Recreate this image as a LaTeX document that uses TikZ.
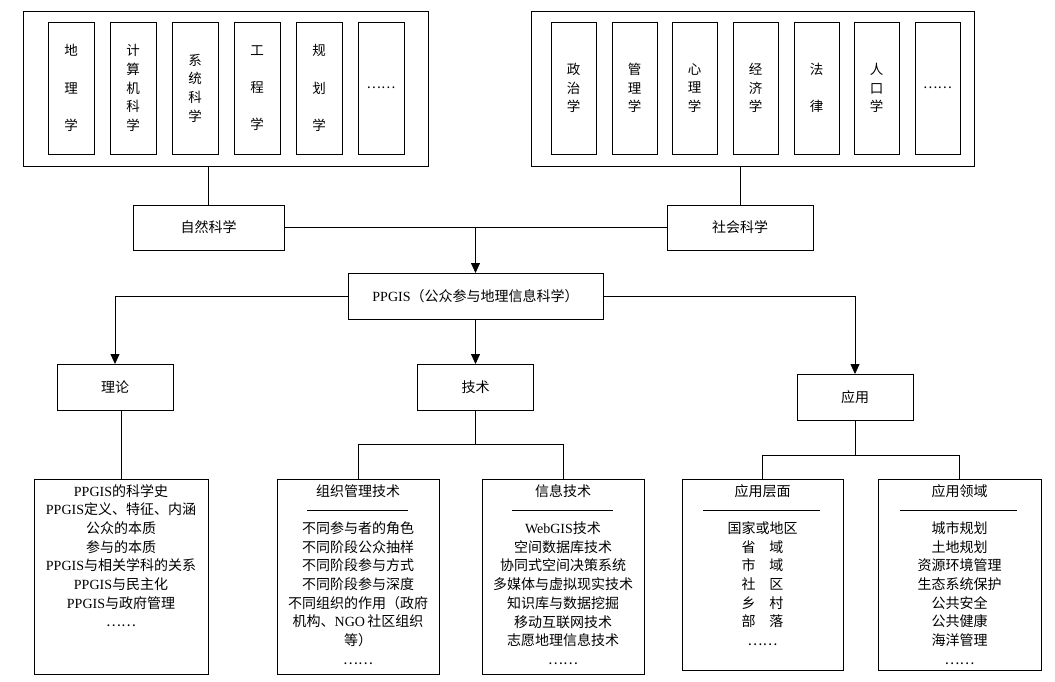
\documentclass[tikz,border=0pt]{standalone}
\usepackage{fontspec}
\setmainfont{Liberation Serif}
\newfontfamily\cjkf{Noto Sans CJK SC}
\newcommand\zhs[1]{{\cjkf #1}}
\usetikzlibrary{arrows.meta,calc}
\begin{document}
\begin{tikzpicture}[x=1pt,y=-1pt,
  box/.style={draw,line width=0.9pt,inner sep=0pt,outer sep=0pt},
  lbl/.style={font=\cjkf\fontsize{14}{16}\selectfont},
  vtext/.style={font=\cjkf\fontsize{13.5}{18.7}\selectfont,align=center,inner sep=0pt},
  btext/.style={font=\fontsize{14}{18.7}\selectfont,align=center,inner sep=0pt,anchor=north},
  conn/.style={line width=0.8pt},
  arr/.style={line width=0.8pt,-{Triangle[length=10pt,width=9pt]}}]
\useasboundingbox (0,0) rectangle (1055,681);
% top-left group
\node[box,minimum width=405,minimum height=155,anchor=north west] (tl) at (23,11) {};
\foreach \nm/\x/\t in {a1/48/{地\\[18.5pt]理\\[18.5pt]学},a2/110/{计\\算\\机\\科\\学},a3/172/{系\\统\\科\\学},a4/234/{工\\[18.5pt]程\\[18.5pt]学},a5/296/{规\\[18.5pt]划\\[18.5pt]学},a6/358/{……}}
  \node[box,minimum width=46,minimum height=132,anchor=north west,vtext] (\nm) at (\x,22) {\t};
% top-right group
\node[box,minimum width=443,minimum height=155,anchor=north west] (tr) at (531,11) {};
\foreach \nm/\x/\t in {b1/551/{政\\治\\学},b2/612/{管\\理\\学},b3/672/{心\\理\\学},b4/733/{经\\济\\学},b5/794/{法\\[18.5pt]律},b6/854/{人\\口\\学},b7/915/{……}}
  \node[box,minimum width=45,minimum height=132,anchor=north west,vtext] (\nm) at (\x,22) {\t};
% middle nodes
\node[box,lbl,minimum width=151,minimum height=45,anchor=north west] (nat) at (133,205) {自然科学};
\node[box,lbl,minimum width=146,minimum height=45,anchor=north west] (soc) at (667,205) {社会科学};
\node[box,minimum width=255,minimum height=46,anchor=north west,font=\fontsize{14}{16}\selectfont] (pp) at (348,273) {PPGIS\zhs{（公众参与地理信息科学）}};
\node[box,lbl,minimum width=116,minimum height=46,anchor=north west] (th) at (57,364) {理论};
\node[box,lbl,minimum width=116,minimum height=46,anchor=north west] (te) at (417.5,364) {技术};
\node[box,lbl,minimum width=116,minimum height=46,anchor=north west] (ap) at (797,374) {应用};
% bottom boxes
\node[box,minimum width=174,minimum height=195,anchor=north west] (thb) at (34,479) {};
\node[box,minimum width=162,minimum height=195,anchor=north west] (orb) at (277,479) {};
\node[box,minimum width=162,minimum height=195,anchor=north west] (inb) at (482,479) {};
\node[box,minimum width=161,minimum height=191,anchor=north west] (lvb) at (682,479) {};
\node[box,minimum width=163,minimum height=191,anchor=north west] (fdb) at (878,479) {};
\node[btext] (tht) at ($(thb.north)+(0,5)$) {PPGIS\zhs{的科学史}\\PPGIS\zhs{定义、特征、内涵}\\\zhs{公众的本质}\\\zhs{参与的本质}\\PPGIS\zhs{与相关学科的关系}\\PPGIS\zhs{与民主化}\\PPGIS\zhs{与政府管理}\\\zhs{……}};
\node[btext] (ort) at ($(orb.north)+(0,5)$) {\zhs{组织管理技术}\\[18.7pt]\zhs{不同参与者的角色}\\\zhs{不同阶段公众抽样}\\\zhs{不同阶段参与方式}\\\zhs{不同阶段参与深度}\\\zhs{不同组织的作用（政府}\\\zhs{机构、}NGO\,\zhs{社区组织}\\\zhs{等）}\\\zhs{……}};
\node[btext] (int) at ($(inb.north)+(0,5)$) {\zhs{信息技术}\\[18.7pt]WebGIS\zhs{技术}\\\zhs{空间数据库技术}\\\zhs{协同式空间决策系统}\\\zhs{多媒体与虚拟现实技术}\\\zhs{知识库与数据挖掘}\\\zhs{移动互联网技术}\\\zhs{志愿地理信息技术}\\\zhs{……}};
\node[btext] (lvt) at ($(lvb.north)+(0,5)$) {\zhs{应用层面}\\[18.7pt]\zhs{国家或地区}\\\zhs{省\hspace{14pt}域}\\\zhs{市\hspace{14pt}域}\\\zhs{社\hspace{14pt}区}\\\zhs{乡\hspace{14pt}村}\\\zhs{部\hspace{14pt}落}\\\zhs{……}};
\node[btext] (fdt) at ($(fdb.north)+(0,5)$) {\zhs{应用领域}\\[18.7pt]\zhs{城市规划}\\\zhs{土地规划}\\\zhs{资源环境管理}\\\zhs{生态系统保护}\\\zhs{公共安全}\\\zhs{公共健康}\\\zhs{海洋管理}\\\zhs{……}};
% header rules
\draw[line width=0.5pt] ($(orb.north west)+(30,31)$) -- ($(orb.north west)+(131,31)$);
\draw[line width=0.5pt] ($(inb.north west)+(30,31)$) -- ($(inb.north west)+(131,31)$);
\draw[line width=0.5pt] ($(lvb.north west)+(21,31)$) -- ($(lvb.north west)+(138,31)$);
\draw[line width=0.5pt] ($(fdb.north west)+(22,31)$) -- ($(fdb.north west)+(139,31)$);
% connectors
\draw[conn] (nat.north) -- (nat.north |- tl.south);
\draw[conn] (soc.north) -- (soc.north |- tr.south);
\draw[conn] (nat.east) -- (soc.west);
\coordinate (mj) at (pp.north |- nat.east);
\draw[arr] (mj) -- (pp.north);
\draw[arr] (pp.west) -| (th.north);
\draw[arr] (pp.south) -- (te.north);
\draw[arr] (pp.east) -| (ap.north);
\draw[conn] (thb.north |- th.south) -- (thb.north);
\coordinate (tj) at ($(te.south)+(0,34)$);
\draw[conn] (te.south) -- (tj);
\draw[conn] (orb.north) -- (orb.north |- tj) -- (inb.north |- tj) -- (inb.north);
\coordinate (aj) at ($(ap.south)+(0,35)$);
\draw[conn] (ap.south) -- (aj);
\draw[conn] (lvb.north) -- (lvb.north |- aj) -- (fdb.north |- aj) -- (fdb.north);
\end{tikzpicture}
\end{document}
